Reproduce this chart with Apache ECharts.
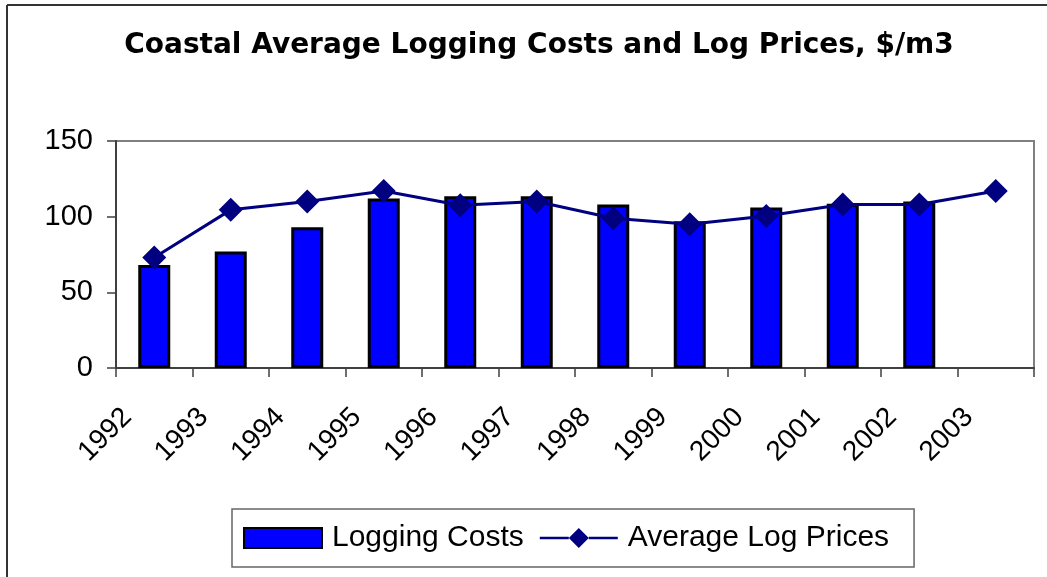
<!DOCTYPE html>
<html>
<head>
<meta charset="utf-8">
<script src="https://cdn.jsdelivr.net/npm/echarts@6/dist/echarts.min.js"></script>
<style>
html,body{margin:0;padding:0;background:#fff;}
#chart{width:1047px;height:577px;}
</style>
</head>
<body>
<div id="chart"></div>
<script>
const titleText = 'Coastal Average Logging Costs and Log Prices, $/m3';
const years = ['1992','1993','1994','1995','1996','1997','1998','1999','2000','2001','2002','2003'];
const loggingCosts = [68, 77, 93, 112, 113.5, 113.5, 108, 97, 106, 108.5, 110, null];
const logPrices = [73, 104.5, 110, 117, 107.5, 110, 99, 95, 100.5, 108, 108, 117];
const yTicks = [0, 50, 100, 150];

const lineLegendIcon = 'path://M0,8.8 L29,8.8 L29,11.2 L0,11.2 Z M29,10 L39,0 L49,10 L39,20 Z M49,8.8 L78,8.8 L78,11.2 L49,11.2 Z';

const chart = echarts.init(document.getElementById('chart'), null, {renderer: 'canvas'});
chart.setOption({
  animation: false,
  backgroundColor: '#ffffff',
  title: {
    text: titleText,
    left: 534,
    top: 27,
    textAlign: 'center',
    textStyle: {fontFamily: 'DejaVu Sans', fontWeight: 'bold', fontSize: 28, color: '#000'}
  },
  graphic: [
    {type: 'line', shape: {x1: 7, y1: 5, x2: 1047, y2: 5}, style: {stroke: '#333', lineWidth: 2}},
    {type: 'line', shape: {x1: 7, y1: 5, x2: 7, y2: 577}, style: {stroke: '#333', lineWidth: 2}}
  ],
  grid: {
    left: 116, right: 13, top: 141, bottom: 209,
    show: true, borderColor: '#808080', borderWidth: 2, backgroundColor: '#fff',
    containLabel: false
  },
  legend: {
    left: 232, top: 509,
    padding: [11, 25, 11, 11],
    itemGap: 16,
    itemWidth: 78, itemHeight: 20,
    borderColor: '#666', borderWidth: 1.5,
    textStyle: {fontFamily: 'Liberation Sans', fontSize: 30, color: '#000', lineHeight: 36, padding: [0, 0, 0, 5]},
    data: [
      {name: 'Logging Costs', icon: 'rect'},
      {name: 'Average Log Prices', icon: lineLegendIcon, itemStyle: {color: '#000080', borderWidth: 0}}
    ]
  },
  xAxis: {
    type: 'category',
    data: years,
    boundaryGap: true,
    axisLine: {lineStyle: {color: '#404040', width: 2}},
    axisTick: {show: true, length: 9, inside: false, lineStyle: {color: '#404040', width: 1.5}},
    axisLabel: {
      interval: 0, rotate: 45, margin: 18,
      padding: [0, 38, 0, 0],
      fontFamily: 'Liberation Sans', fontSize: 28, color: '#000'
    },
    splitLine: {show: false}
  },
  yAxis: {
    type: 'value',
    min: yTicks[0], max: yTicks[yTicks.length - 1], interval: 50,
    axisLine: {show: true, lineStyle: {color: '#404040', width: 2}},
    axisTick: {show: true, length: 9, lineStyle: {color: '#404040', width: 1.5}},
    axisLabel: {margin: 23, fontFamily: 'Liberation Sans', fontSize: 29, color: '#000'},
    splitLine: {show: false}
  },
  series: [
    {
      name: 'Logging Costs',
      type: 'bar',
      data: loggingCosts,
      barWidth: 32,
      itemStyle: {color: '#0000ff', borderColor: '#000', borderWidth: 3}
    },
    {
      name: 'Average Log Prices',
      type: 'line',
      data: logPrices,
      symbol: 'diamond',
      symbolSize: 24,
      lineStyle: {color: '#000080', width: 3},
      itemStyle: {color: '#000080'}
    }
  ]
});
</script>
</body>
</html>
